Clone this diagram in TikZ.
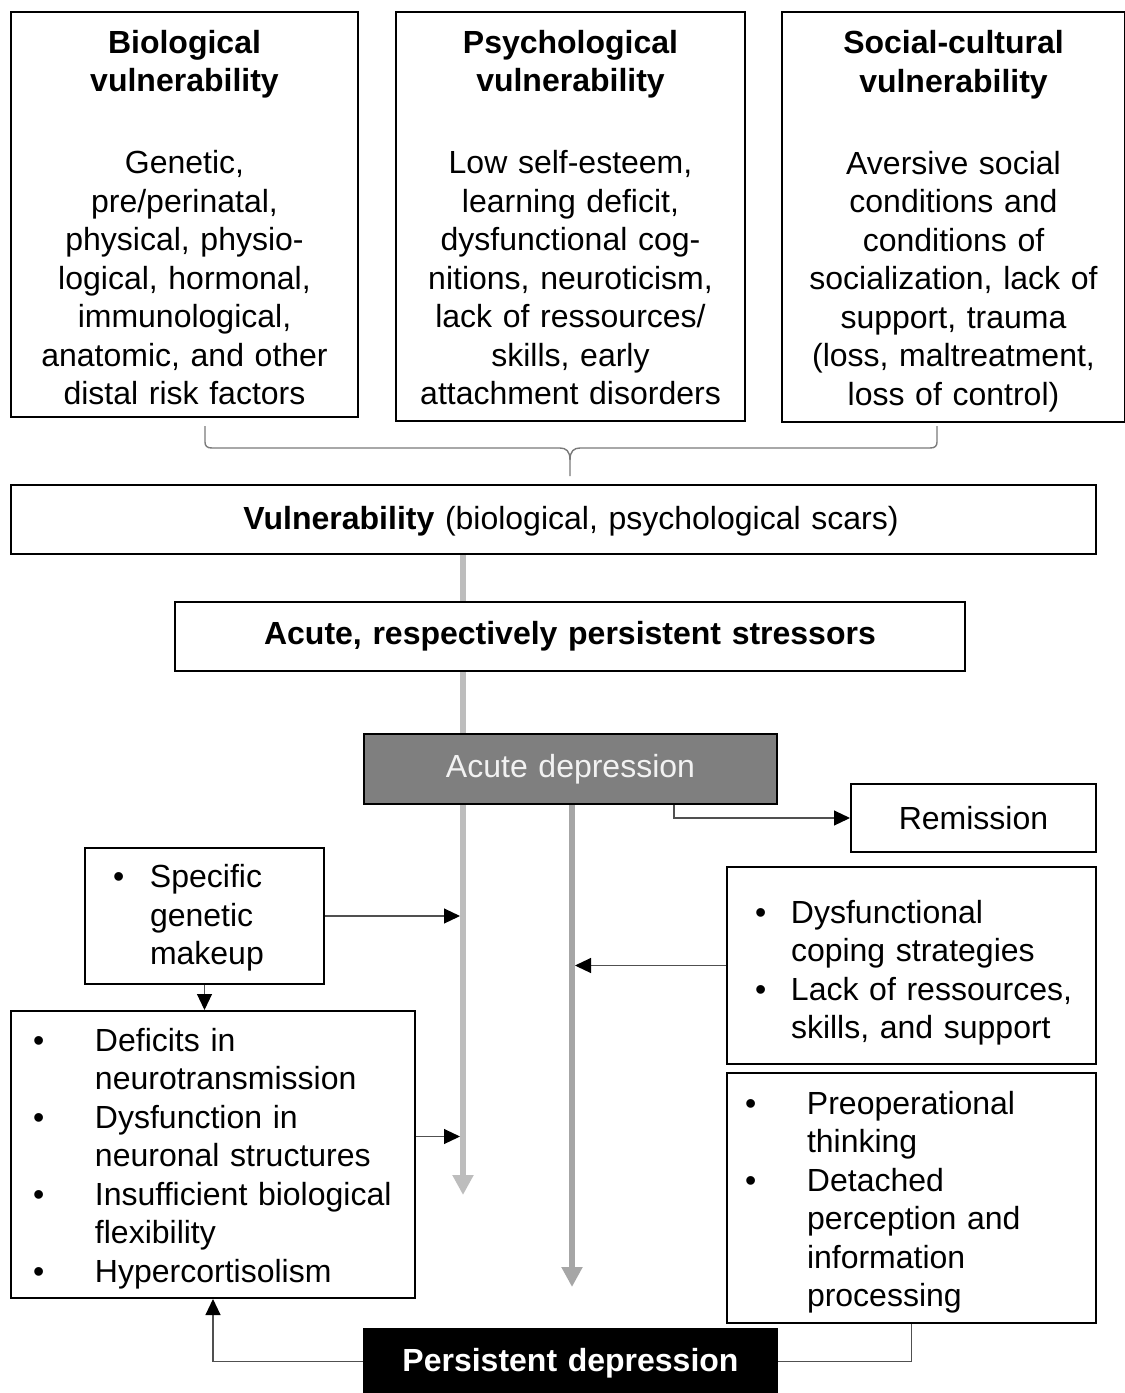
\documentclass[tikz,border=0pt]{standalone}
\usepackage{fontspec}
\setmainfont{Liberation Sans}
\usetikzlibrary{arrows.meta,backgrounds}
\definecolor{flowA}{HTML}{BDBDBD}
\definecolor{flowB}{HTML}{A6A6A6}
\definecolor{acutefill}{HTML}{7F7F7F}
\definecolor{braceclr}{HTML}{7A7A7A}
\definecolor{connclr}{HTML}{505050}
% bullet line: left indent, bullet box width, text
\newcommand{\bitem}[3]{\hspace*{#1}\makebox[#2][l]{\textbullet}#3}
% continuation line of a bullet item
\newcommand{\bcont}[3]{\hspace*{#1}\hspace*{#2}#3}
% invisible strut that sets the height of a first line
\newcommand{\toph}[1]{\rule{0pt}{#1}}
\begin{document}
\begin{tikzpicture}[x=1pt,y=-1pt,
  box/.style={draw=black, line width=2pt, fill=white, inner sep=0pt,
    anchor=north west, font=\fontsize{32}{38.5}\selectfont},
  cbox/.style={box, align=center},
  lbox/.style={box, align=left},
  conn/.style={draw=connclr, line width=1.1pt},
  tipped/.style={-{Triangle[length=16pt,width=15pt,color=black]}},
  flow/.style={line width=6pt, -{Triangle[length=20pt,width=20pt]}}
]
\useasboundingbox (0,0) rectangle (1125,1393);

% vulnerability factors
\node[cbox, minimum width=347pt, minimum height=405pt, text width=347pt] (bio) at (10,11)
  {\toph{29.5pt}\textbf{Biological}\\\textbf{vulnerability}\\[43.5pt]Genetic,\\pre/perinatal,\\physical, physio-\\logical, hormonal,\\immunological,\\anatomic, and other\\distal risk factors};
\node[cbox, minimum width=349pt, minimum height=409pt, text width=349pt] (psy) at (395,11)
  {\toph{25.5pt}\textbf{Psychological}\\\textbf{vulnerability}\\[43.5pt]Low self-esteem,\\learning deficit,\\dysfunctional cog-\\nitions, neuroticism,\\lack of ressources/\\skills, early\\attachment disorders};
\node[cbox, minimum width=343pt, minimum height=410pt, text width=343pt] (soc) at (781,11)
  {\toph{31.5pt}\textbf{Social-cultural}\\\textbf{vulnerability}\\[43.5pt]Aversive social\\conditions and\\conditions of\\socialization, lack of\\support, trauma\\(loss, maltreatment,\\loss of control)};

% brace gathering the three factors
\draw[braceclr, line width=1.4pt]
  (205,426) -- (205,442) .. controls (205,446) and (207,448) .. (212,448)
  -- (560,448) .. controls (566,448) and (570,451) .. (570,460) -- (570,476);
\draw[braceclr, line width=1.4pt]
  (937,426) -- (937,442) .. controls (937,446) and (935,448) .. (930,448)
  -- (580,448) .. controls (574,448) and (570,451) .. (570,460);

% main chain
\node[cbox, minimum width=1085pt, minimum height=69pt, text width=1085pt] (vul) at (10,484)
  {\toph{26pt}\hspace*{35pt}\textbf{Vulnerability} (biological, psychological scars)};
\node[cbox, minimum width=790pt, minimum height=69pt, text width=790pt] (str) at (174,601)
  {\textbf{Acute, respectively persistent stressors}};
\node[cbox, fill=acutefill, text=white!95!black, minimum width=413pt, minimum height=70pt, text width=413pt] (acu) at (363,733)
  {Acute depression};
\node[cbox, minimum width=245pt, minimum height=68pt, text width=245pt] (rem) at (850,783)
  {Remission};
\node[cbox, fill=black, text=white, minimum width=413pt, minimum height=65pt, text width=413pt] (per) at (363,1328)
  {\toph{26pt}\textbf{Persistent depression}};

% influencing factors
\node[lbox, minimum width=239pt, minimum height=136pt, text width=239pt] (gen) at (84,847)
  {\toph{27.5pt}\bitem{28pt}{37pt}{Specific}\\\bcont{28pt}{37pt}{genetic}\\\bcont{28pt}{37pt}{makeup}};
\node[lbox, minimum width=404pt, minimum height=287pt, text width=404pt] (def) at (10,1010)
  {\toph{31.5pt}\bitem{22pt}{62pt}{Deficits in}\\\bcont{22pt}{62pt}{neurotransmission}\\
   \bitem{22pt}{62pt}{Dysfunction in}\\\bcont{22pt}{62pt}{neuronal structures}\\
   \bitem{22pt}{62pt}{Insufficient biological}\\\bcont{22pt}{62pt}{flexibility}\\
   \bitem{22pt}{62pt}{Hypercortisolism}};
\node[lbox, minimum width=369pt, minimum height=197pt, text width=369pt] (cop) at (726,866)
  {\toph{37.5pt}\bitem{28pt}{36pt}{Dysfunctional}\\\bcont{28pt}{36pt}{coping strategies}\\
   \bitem{28pt}{36pt}{Lack of ressources,}\\\bcont{28pt}{36pt}{skills, and support}};
\node[lbox, minimum width=369pt, minimum height=250pt, text width=369pt] (pre) at (726,1072)
  {\toph{31.5pt}\bitem{18pt}{62pt}{Preoperational}\\\bcont{18pt}{62pt}{thinking}\\
   \bitem{18pt}{62pt}{Detached}\\\bcont{18pt}{62pt}{perception and}\\
   \bcont{18pt}{62pt}{information}\\\bcont{18pt}{62pt}{processing}};

% end points of the two course arrows
\coordinate (tipL) at (463,1195);
\coordinate (tipR) at (572,1287);

\begin{pgfonlayer}{background}
  \draw[flow, flowA] (vul.south -| tipL) -- (tipL);
  \draw[flow, flowB] (acu.south -| tipR) -- (tipR);
\end{pgfonlayer}

% connectors
\draw[conn, tipped] ([xshift=103.5pt]acu.south) |- (rem.west);
\draw[conn, tipped, shorten >=3pt] (gen.east) -- (gen.east -| tipL);
\draw[conn, tipped, shorten >=3pt] ([yshift=18pt]def.east) -- ([yshift=18pt]def.east -| tipL);
\draw[conn, tipped, shorten >=3pt] (cop.west) -- (cop.west -| tipR);
\draw[conn, tipped] (gen.south) -- (def.north -| gen.south);
\draw[conn, tipped] (per.west) -| (def.south);
\draw[conn] (per.east) -| (pre.south);
\end{tikzpicture}
\end{document}
